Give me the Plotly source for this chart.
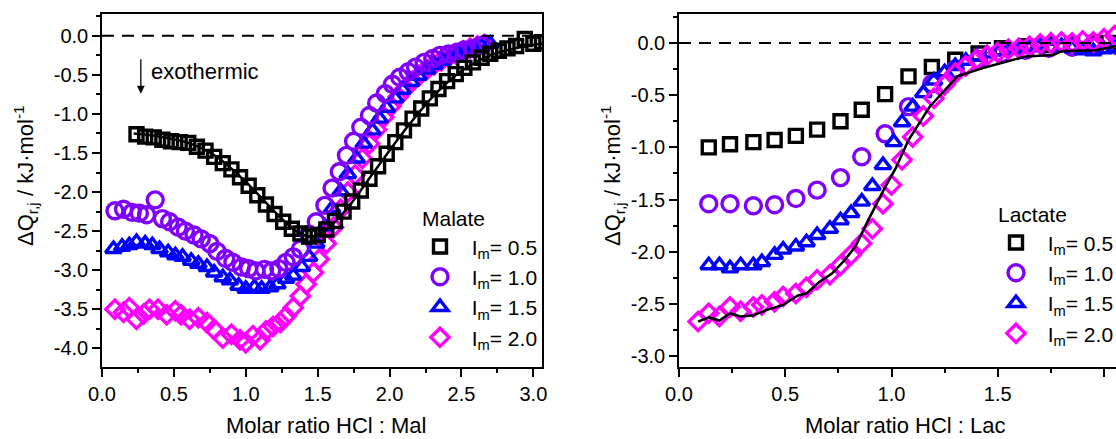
import plotly.graph_objects as go

W, H = 1116, 439
FONT = "Liberation Sans, Arial, sans-serif"

# ---------------- data: Malate (left) ----------------
series_labels = ["\u00a0\u00a0I<sub>m</sub>= 0.5", "\u00a0\u00a0I<sub>m</sub>= 1.0",
                 "\u00a0\u00a0I<sub>m</sub>= 1.5", "\u00a0\u00a0I<sub>m</sub>= 2.0"]

mal05_x = [0.24,0.30,0.36,0.42,0.48,0.54,0.60,0.66,0.72,0.78,0.84,0.90,0.96,1.02,1.08,1.14,1.20,1.26,1.32,1.38,
           1.44,1.50,1.56,1.62,1.68,1.74,1.80,1.86,1.92,1.98,2.04,2.10,2.16,2.22,2.28,2.34,2.40,2.46,2.52,2.58,
           2.64,2.70,2.76,2.82,2.88,2.94,3.00,3.06]
mal05_y = [-1.26,-1.29,-1.30,-1.33,-1.35,-1.36,-1.37,-1.42,-1.47,-1.55,-1.63,-1.71,-1.81,-1.92,-2.04,-2.16,-2.28,-2.38,-2.47,-2.53,
           -2.57,-2.55,-2.48,-2.37,-2.25,-2.12,-1.98,-1.83,-1.67,-1.51,-1.36,-1.21,-1.06,-0.93,-0.80,-0.68,-0.58,-0.49,-0.41,-0.34,
           -0.28,-0.23,-0.19,-0.16,-0.13,-0.04,-0.10,-0.08]

mal10_x = [0.09,0.15,0.21,0.26,0.31,0.37,0.42,0.47,0.53,0.58,0.64,0.69,0.75,0.80,0.86,0.91,0.97,1.02,1.07,1.13,
           1.18,1.23,1.28,1.33,1.38,1.44,1.49,1.55,1.60,1.65,1.70,1.75,1.80,1.86,1.91,1.97,2.02,2.07,2.13,2.18,
           2.24,2.30,2.35,2.41,2.47,2.52,2.58,2.64]
mal10_y = [-2.24,-2.22,-2.26,-2.27,-2.29,-2.10,-2.34,-2.38,-2.45,-2.50,-2.55,-2.60,-2.66,-2.76,-2.85,-2.90,-2.96,-2.98,-3.01,-2.99,
           -3.01,-2.98,-2.90,-2.83,-2.73,-2.54,-2.38,-2.17,-1.95,-1.74,-1.53,-1.35,-1.17,-1.02,-0.86,-0.74,-0.62,-0.53,-0.46,-0.40,
           -0.34,-0.29,-0.25,-0.23,-0.21,-0.18,-0.16,-0.12]

mal15_x = [0.08,0.14,0.19,0.24,0.30,0.35,0.40,0.46,0.51,0.56,0.62,0.67,0.73,0.78,0.84,0.89,0.95,1.00,1.06,1.11,
           1.17,1.22,1.28,1.33,1.39,1.44,1.49,1.55,1.60,1.66,1.71,1.77,1.82,1.88,1.93,1.98,2.04,2.09,2.15,2.20,
           2.26,2.31,2.37,2.42,2.48,2.53,2.59,2.64,2.70]
mal15_y = [-2.73,-2.70,-2.68,-2.64,-2.66,-2.68,-2.73,-2.77,-2.81,-2.83,-2.88,-2.92,-2.96,-3.03,-3.09,-3.13,-3.20,-3.24,-3.22,-3.24,
           -3.22,-3.18,-3.11,-3.07,-2.96,-2.83,-2.66,-2.44,-2.21,-1.99,-1.77,-1.57,-1.38,-1.21,-1.06,-0.92,-0.80,-0.69,-0.59,-0.51,
           -0.43,-0.37,-0.32,-0.27,-0.23,-0.19,-0.16,-0.13,-0.10]

mal20_x = [0.09,0.15,0.19,0.24,0.29,0.33,0.39,0.45,0.51,0.55,0.61,0.67,0.73,0.78,0.84,0.90,0.96,1.00,1.05,1.10,
           1.14,1.19,1.24,1.28,1.33,1.38,1.42,1.47,1.51,1.56,1.61,1.66,1.71,1.76,1.81,1.86,1.91,1.96,2.01,2.06,
           2.11,2.16,2.21,2.26,2.31,2.36,2.41,2.46,2.51,2.56,2.61,2.66]
mal20_y = [-3.50,-3.54,-3.48,-3.63,-3.56,-3.50,-3.50,-3.57,-3.52,-3.57,-3.63,-3.61,-3.67,-3.76,-3.87,-3.82,-3.89,-3.93,-3.84,-3.89,
           -3.78,-3.72,-3.67,-3.59,-3.48,-3.33,-3.18,-3.03,-2.86,-2.66,-2.45,-2.22,-2.00,-1.78,-1.57,-1.38,-1.20,-1.04,-0.90,-0.78,
           -0.67,-0.58,-0.50,-0.43,-0.37,-0.32,-0.27,-0.23,-0.19,-0.16,-0.13,-0.11]

malfit_x = [0.22,0.40,0.60,0.80,1.00,1.20,1.35,1.45,1.55,1.70,1.90,2.10,2.30,2.50,2.70,2.90,3.10]
malfit_y = [-1.25,-1.29,-1.37,-1.55,-1.87,-2.25,-2.50,-2.57,-2.50,-2.22,-1.72,-1.22,-0.78,-0.45,-0.25,-0.15,-0.09]

# ---------------- data: Lactate (right) ----------------
lac_x_coarse = [0.14,0.24,0.35,0.45,0.55,0.65,0.76,0.86,0.97,1.08,1.19,1.30,1.41,1.52,1.63,1.74,1.85,1.96,2.07]
lac05_y = [-1.00,-0.97,-0.95,-0.93,-0.89,-0.83,-0.75,-0.64,-0.49,-0.32,-0.23,-0.16,-0.10,-0.05,-0.03,-0.02,-0.01,0.00,0.00]
lac10_y = [-1.54,-1.54,-1.56,-1.55,-1.49,-1.41,-1.29,-1.09,-0.87,-0.61,-0.39,-0.25,-0.16,-0.10,-0.07,-0.05,-0.04,-0.03,-0.03]

lac15_x = [0.14,0.19,0.24,0.29,0.35,0.39,0.45,0.49,0.55,0.60,0.65,0.71,0.76,0.81,0.86,0.91,0.96,1.01,1.05,1.10,
           1.15,1.20,1.25,1.30,1.35,1.40,1.45,1.50,1.55,1.60,1.65,1.70,1.75,1.80,1.85,1.90,1.95,2.00,2.05]
lac15_y = [-2.13,-2.13,-2.16,-2.13,-2.13,-2.10,-2.03,-1.98,-1.95,-1.91,-1.84,-1.78,-1.70,-1.63,-1.52,-1.37,-1.17,-0.95,-0.76,-0.61,
           -0.48,-0.36,-0.28,-0.22,-0.17,-0.13,-0.10,-0.08,-0.06,-0.05,-0.04,-0.02,0.02,-0.03,-0.05,-0.07,-0.08,-0.06,-0.05]

lac20_x = [0.09,0.14,0.19,0.24,0.29,0.35,0.39,0.45,0.49,0.55,0.60,0.65,0.71,0.76,0.81,0.86,0.91,0.96,1.00,1.05,
           1.10,1.15,1.20,1.25,1.30,1.35,1.40,1.45,1.50,1.55,1.60,1.65,1.70,1.75,1.80,1.85,1.90,1.95,2.00,2.05]
lac20_y = [-2.67,-2.59,-2.62,-2.53,-2.57,-2.53,-2.51,-2.48,-2.43,-2.40,-2.34,-2.27,-2.22,-2.13,-2.03,-1.92,-1.78,-1.54,-1.36,-1.12,
           -0.90,-0.70,-0.53,-0.40,-0.29,-0.22,-0.16,-0.12,-0.09,-0.06,-0.05,-0.03,-0.01,0.00,0.01,0.00,0.02,0.01,0.04,0.07]

lacfit_x = [0.09,0.14,0.19,0.24,0.29,0.35,0.41,0.49,0.56,0.60,0.66,0.72,0.78,0.83,0.89,0.96,1.02,1.08,1.18,1.31,
            1.43,1.63,1.76,1.80,1.96,2.06]
lacfit_y = [-2.67,-2.63,-2.66,-2.59,-2.62,-2.61,-2.56,-2.51,-2.42,-2.40,-2.29,-2.21,-2.08,-1.95,-1.70,-1.42,-1.20,-0.93,-0.61,-0.32,
            -0.24,-0.13,-0.115,-0.08,-0.07,-0.03]

# ---------------- axis ticks ----------------
left_xticks = [0.0, 0.5, 1.0, 1.5, 2.0, 2.5, 3.0]
left_xtext = ["0.0", "0.5", "1.0", "1.5", "2.0", "2.5", "3.0"]
left_yticks = [0.0, -0.5, -1.0, -1.5, -2.0, -2.5, -3.0, -3.5, -4.0]
left_ytext = ["0.0", "-0.5", "-1.0", "-1.5", "-2.0", "-2.5", "-3.0", "-3.5", "-4.0"]
right_xticks = [0.0, 0.5, 1.0, 1.5, 2.0]
right_xtext = ["0.0", "0.5", "1.0", "1.5", "2.0"]
right_yticks = [0.0, -0.5, -1.0, -1.5, -2.0, -2.5, -3.0]
right_ytext = ["0.0", "-0.5", "-1.0", "-1.5", "-2.0", "-2.5", "-3.0"]

BLACK, PURPLE, BLUE, MAGENTA = "#000000", "#8000FF", "#0000FF", "#FF00FF"
LW = 3.4

fig = go.Figure()

def mk(x, y, sym, size, color, name, xa, ya, leg, rank):
    return go.Scatter(x=x, y=y, mode="markers", name=name, xaxis=xa, yaxis=ya,
                      legend=leg, legendrank=rank,
                      marker=dict(symbol=sym, size=size, color=color,
                                  line=dict(color=color, width=LW)))

# left panel (draw order: 2.0, 1.5, 1.0, 0.5)
fig.add_trace(mk(mal20_x, mal20_y, "diamond-open", 14, MAGENTA, series_labels[3], "x", "y", "legend", 4))
fig.add_trace(mk(mal15_x, mal15_y, "triangle-up-open", 14, BLUE, series_labels[2], "x", "y", "legend", 3))
fig.add_trace(mk(mal10_x, mal10_y, "circle-open", 16, PURPLE, series_labels[1], "x", "y", "legend", 2))
fig.add_trace(mk(mal05_x, mal05_y, "square-open", 13, BLACK, series_labels[0], "x", "y", "legend", 1))
fig.add_trace(go.Scatter(x=malfit_x, y=malfit_y, mode="lines", xaxis="x", yaxis="y", showlegend=False,
                         line=dict(color=BLACK, width=2.5, shape="spline")))

# right panel (draw order: 0.5, 1.0, 1.5, 2.0)
fig.add_trace(mk(lac_x_coarse, lac05_y, "square-open", 13, BLACK, series_labels[0], "x2", "y2", "legend2", 1))
fig.add_trace(mk(lac_x_coarse, lac10_y, "circle-open", 16, PURPLE, series_labels[1], "x2", "y2", "legend2", 2))
fig.add_trace(mk(lac15_x, lac15_y, "triangle-up-open", 14, BLUE, series_labels[2], "x2", "y2", "legend2", 3))
fig.add_trace(mk(lac20_x, lac20_y, "diamond-open", 14, MAGENTA, series_labels[3], "x2", "y2", "legend2", 4))
fig.add_trace(go.Scatter(x=lacfit_x, y=lacfit_y, mode="lines", xaxis="x2", yaxis="y2", showlegend=False,
                         line=dict(color=BLACK, width=2.5)))

ydom = [1 - 367 / H, 1 - 14 / H]
axcommon = dict(showgrid=False, zeroline=False, showline=True, linecolor="black", linewidth=1.5,
                ticks="outside", ticklen=8, tickwidth=1.5, tickcolor="black",
                tickfont=dict(family=FONT, size=20, color="black"))
minor = dict(ticks="outside", ticklen=4, tickwidth=1.5, tickcolor="black", dtick=0.25, showgrid=False)

fig.update_layout(
    width=W, height=H,
    margin=dict(l=0, r=0, t=0, b=0, autoexpand=False),
    paper_bgcolor="white", plot_bgcolor="white",
    font=dict(family=FONT, color="black"),
    xaxis=dict(domain=[102 / W, 542 / W], range=[0, 3.06], tickvals=left_xticks, ticktext=left_xtext,
               mirror=True, anchor="y", minor=dict(**minor, tick0=0), **axcommon),
    yaxis=dict(domain=ydom, range=[-4.24, 0.28], tickvals=left_yticks, ticktext=left_ytext,
               mirror=True, anchor="x", minor=dict(**minor, tick0=0), **axcommon),
    xaxis2=dict(domain=[679 / W, 1.0], range=[0, (W - 679) / 212.5], tickvals=right_xticks, ticktext=right_xtext,
                mirror=True, anchor="y2", minor=dict(**minor, tick0=0), **axcommon),
    yaxis2=dict(domain=ydom, range=[-3.105, 0.278], tickvals=right_yticks, ticktext=right_ytext,
                mirror=False, anchor="x2", minor=dict(**minor, tick0=0), **axcommon),
    legend=dict(x=420 / W, y=1 - 199 / H, xanchor="left", yanchor="top", bgcolor="rgba(0,0,0,0)",
                title=dict(text="Malate", font=dict(size=21, family=FONT)),
                font=dict(size=21, family=FONT), tracegroupgap=0),
    legend2=dict(x=996 / W, y=1 - 195 / H, xanchor="left", yanchor="top", bgcolor="rgba(0,0,0,0)",
                 title=dict(text="Lactate", font=dict(size=21, family=FONT)),
                 font=dict(size=21, family=FONT), tracegroupgap=0),
    showlegend=True,
)

# dashed zero lines
fig.add_shape(type="line", xref="x", yref="y", x0=0, x1=3.06, y0=0, y1=0,
              line=dict(color="black", width=2, dash="12px,8px"))
fig.add_shape(type="line", xref="x2", yref="y2", x0=0, x1=(W - 679) / 212.5, y0=0, y1=0,
              line=dict(color="black", width=2, dash="12px,8px"))

# exothermic arrow + label
fig.add_annotation(xref="x", yref="y", x=0.27, y=-0.74, axref="x", ayref="y", ax=0.27, ay=-0.28,
                   text="", showarrow=True, arrowhead=2, arrowsize=1.2, arrowwidth=1.3, arrowcolor="black")
fig.add_annotation(xref="x", yref="y", x=0.33, y=-0.46, text="exothermic", showarrow=False,
                   xanchor="left", yanchor="middle", font=dict(family=FONT, size=22, color="black"))

# axis titles
for xc, txt in [(326, "Molar ratio HCl : Mal"), (905, "Molar ratio HCl : Lac")]:
    fig.add_annotation(xref="paper", yref="paper", x=xc / W, y=1 - 425 / H, text=txt, showarrow=False,
                       xanchor="center", yanchor="middle", font=dict(family=FONT, size=22, color="black"))
for xc in [25, 612]:
    fig.add_annotation(xref="paper", yref="paper", x=xc / W, y=1 - 176 / H,
                       text="ΔQ<sub>r,j</sub> / kJ·mol<sup>-1</sup>", showarrow=False, textangle=-90,
                       xanchor="center", yanchor="middle", font=dict(family=FONT, size=22, color="black"))

fig.write_html("out.html")
